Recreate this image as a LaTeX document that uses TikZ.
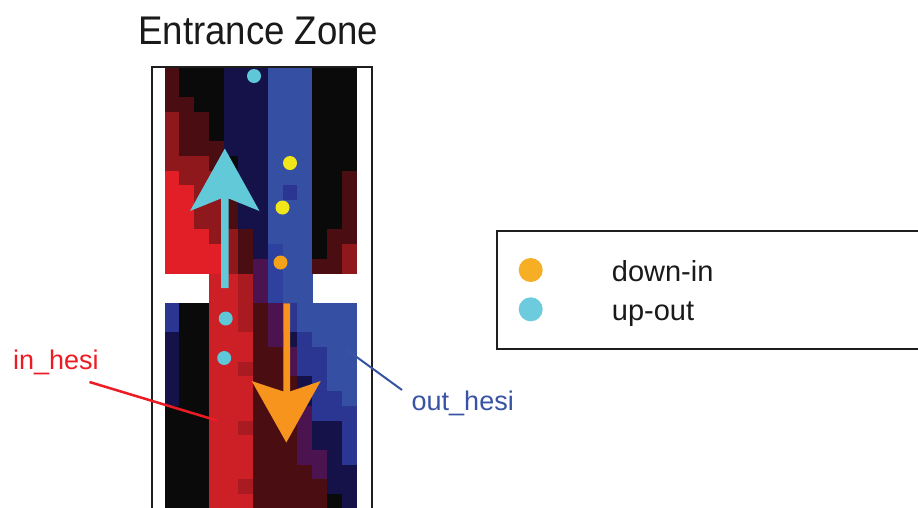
\documentclass[tikz,border=0pt]{standalone}
\usepackage{fontspec}
\setmainfont{Liberation Sans}
\definecolor{hK}{HTML}{0A0A0A}
\definecolor{hM}{HTML}{4A0E12}
\definecolor{hR}{HTML}{8F181D}
\definecolor{hB}{HTML}{E21E26}
\definecolor{hL}{HTML}{CC1F26}
\definecolor{hD}{HTML}{A91B21}
\definecolor{hN}{HTML}{15124A}
\definecolor{hU}{HTML}{3550A3}
\definecolor{hV}{HTML}{2B3592}
\definecolor{hW}{HTML}{2F419E}
\definecolor{hP}{HTML}{4B1450}
\definecolor{arrowcyan}{HTML}{62C9D9}
\definecolor{arroworange}{HTML}{F7941D}
\definecolor{dotcyan}{HTML}{5FC8D8}
\definecolor{dotyellow}{HTML}{F0E619}
\definecolor{dotorange}{HTML}{F5A21B}
\definecolor{legorange}{HTML}{F6AE24}
\definecolor{legcyan}{HTML}{6CCBDC}
\definecolor{framegray}{HTML}{1E1E1E}
\definecolor{textgray}{HTML}{1A1A1A}
\definecolor{inred}{HTML}{ED1C24}
\definecolor{outblue}{HTML}{3953A4}
\tikzset{
  dot/.style={circle, inner sep=0pt, minimum size=14pt, draw=none},
  legdot/.style={circle, inner sep=0pt, minimum size=24pt, draw=none},
  legtext/.style={anchor=base west, text=textgray, font=\fontsize{29}{29}\selectfont, inner sep=0pt},
  labeltext/.style={anchor=base west, font=\fontsize{27}{27}\selectfont, inner sep=0pt}
}
\begin{document}
\begin{tikzpicture}[x=1pt,y=-1pt]
\useasboundingbox (0,0) rectangle (918,507);
\begin{scope}
\clip (0,0) rectangle (918,507);
\fill[white] (0,0) rectangle (918,507);
% heat map cells: column / first row / last row / colour
\foreach \c/\a/\b/\k in {
 0/0/2/M, 0/3/6/R, 0/7/13/B, 0/16/17/V, 0/18/22/N, 0/23/29/K,
 1/0/1/K, 1/2/5/M, 1/6/7/R, 1/8/13/B, 1/16/29/K,
 2/0/2/K, 2/3/5/M, 2/6/10/R, 2/11/13/B, 2/16/29/K,
 3/0/4/K, 3/5/6/M, 3/7/11/R, 3/12/13/B, 3/14/29/L,
 4/0/5/N, 4/6/7/K, 4/8/10/M, 4/11/13/R, 4/14/29/L,
 5/0/10/N, 5/11/13/M, 5/14/17/D, 5/18/19/L, 5/20/20/D, 5/21/23/L, 5/24/24/D, 5/25/27/L, 5/28/28/D, 5/29/29/L,
 6/0/12/N, 6/13/15/P, 6/16/29/M,
 7/0/11/U, 7/12/15/W, 7/16/18/P, 7/19/29/M,
 8/0/7/U, 8/8/8/V, 8/9/15/U, 8/16/17/V, 8/18/18/N, 8/19/20/P, 8/21/29/M,
 9/0/17/U, 9/18/20/V, 9/21/22/N, 9/23/26/P, 9/27/29/M,
 10/0/12/K, 10/13/13/M, 10/16/18/U, 10/19/23/V, 10/24/25/N, 10/26/27/P, 10/28/29/M,
 11/0/10/K, 11/11/13/M, 11/16/21/U, 11/22/23/V, 11/24/28/N, 11/29/29/K,
 12/0/6/K, 12/7/11/M, 12/12/13/R, 12/16/22/U, 12/23/26/V, 12/27/29/N}{
  \fill[h\k] ({165+14.75*\c-0.3},{68+14.7*\a-0.3}) rectangle ({165+14.75*(\c+1)+0.3},{68+14.7*(\b+1)+0.3});
}
% frame
\draw[line width=2pt, draw=framegray] (151.5,520) -- (151.5,66.8) -- (372,66.8) -- (372,520);
% arrows
\fill[arrowcyan] (221,288) -- (221,198.5) -- (190,211) -- (224.8,148.5) -- (259.5,211) -- (228.6,198.5) -- (228.6,288) -- cycle;
\fill[arroworange] (283.3,303.3) -- (283.3,391.5) -- (251.7,381) -- (286.3,442.5) -- (320.7,381) -- (290,391.5) -- (290,303.3) -- cycle;
% dots
\node[dot, fill=dotcyan] (c1) at (254,76) {};
\node[dot, fill=dotyellow] (y1) at (290,163) {};
\node[dot, fill=dotyellow] (y2) at (282.5,207.5) {};
\node[dot, fill=dotorange] (o1) at (280.5,262.5) {};
\node[dot, fill=dotcyan] (c2) at (225.7,318.5) {};
\node[dot, fill=dotcyan] (c3) at (224.2,358) {};
% legend
\draw[line width=2pt, draw=framegray] (497.3,230.7) rectangle (930,349);
\node[legdot, fill=legorange] (ld1) at (530.7,270) {};
\node[legdot, fill=legcyan] (ld2) at (530.7,309.3) {};
\node[legtext] (lt1) at (611.7,281.7) {down-in};
\node[legtext] (lt2) at (611.7,320.5) {up-out};
% title
\node[anchor=base, text=textgray, inner sep=0pt, font=\fontsize{40}{40}\selectfont] (title) at (258.3,44.5) {\scalebox{0.915}[1]{Entrance Zone}};
% labels with leader lines
\node[labeltext, text=inred] (inlab) at (13,369.5) {in\_hesi};
\node[labeltext, text=outblue] (outlab) at (411.5,410.5) {out\_hesi};
\coordinate (inA) at (89.5,382);
\coordinate (inB) at (217,420.5);
\coordinate (outA) at (402,390);
\coordinate (outB) at (347,350);
\draw[inred, line width=2.5pt] (inA) -- (inB);
\draw[outblue, line width=2pt] (outA) -- (outB);
\end{scope}
\end{tikzpicture}
\end{document}
